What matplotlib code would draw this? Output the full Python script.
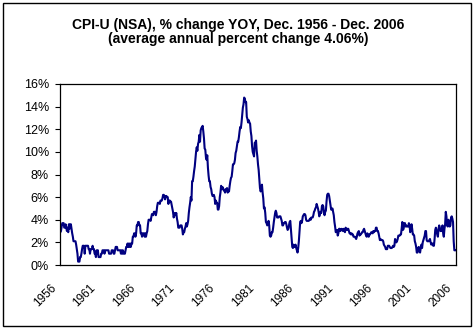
import matplotlib
matplotlib.use("Agg")
import matplotlib.pyplot as plt
import matplotlib.patches as patches
import matplotlib.transforms as mtransforms
import numpy as np

# CPI-U YoY % change, monthly, Dec 1956 .. Dec 2006
dec_1956 = [2.9]
yoy_by_year = {
    1957: [3.0, 3.4, 3.7, 3.7, 3.7, 3.3, 3.3, 3.6, 3.3, 3.0, 3.3, 2.9],
    1958: [3.6, 3.2, 3.6, 3.6, 3.2, 2.8, 2.5, 2.1, 2.1, 2.1, 2.1, 1.8],
    1959: [1.4, 1.0, 0.3, 0.3, 0.3, 0.7, 0.7, 1.0, 1.4, 1.7, 1.7, 1.7],
    1960: [1.0, 1.7, 1.7, 1.7, 1.7, 1.7, 1.4, 1.4, 1.0, 1.4, 1.4, 1.4],
    1961: [1.7, 1.4, 1.4, 1.0, 1.0, 0.7, 1.3, 1.0, 1.3, 0.7, 0.7, 0.7],
    1962: [0.7, 1.0, 1.0, 1.3, 1.3, 1.3, 1.0, 1.3, 1.3, 1.3, 1.3, 1.3],
    1963: [1.3, 1.0, 1.0, 1.0, 1.0, 1.3, 1.3, 1.3, 1.0, 1.0, 1.3, 1.6],
    1964: [1.6, 1.6, 1.3, 1.3, 1.3, 1.3, 1.3, 1.0, 1.3, 1.0, 1.3, 1.0],
    1965: [1.0, 1.0, 1.3, 1.6, 1.6, 1.9, 1.6, 1.9, 1.6, 1.9, 1.6, 1.9],
    1966: [1.9, 2.5, 2.5, 2.8, 2.8, 2.5, 2.8, 3.5, 3.5, 3.8, 3.8, 3.5],
    1967: [3.5, 2.8, 2.8, 2.5, 2.8, 2.8, 2.8, 2.5, 2.8, 2.5, 2.8, 3.0],
    1968: [3.6, 4.0, 4.0, 4.0, 3.9, 4.2, 4.5, 4.5, 4.4, 4.7, 4.7, 4.7],
    1969: [4.4, 4.7, 5.2, 5.5, 5.5, 5.5, 5.4, 5.7, 5.7, 5.7, 5.9, 6.2],
    1970: [6.2, 6.1, 5.8, 6.1, 6.1, 6.0, 6.0, 5.4, 5.7, 5.7, 5.6, 5.6],
    1971: [5.3, 5.0, 4.7, 4.2, 4.4, 4.6, 4.4, 4.6, 4.1, 3.8, 3.3, 3.3],
    1972: [3.3, 3.5, 3.5, 3.5, 3.2, 2.7, 2.9, 2.9, 3.2, 3.4, 3.7, 3.4],
    1973: [3.6, 3.9, 4.6, 5.1, 5.5, 6.0, 5.7, 7.4, 7.4, 7.8, 8.3, 8.7],
    1974: [9.4, 10.0, 10.4, 10.1, 10.7, 10.9, 11.5, 10.9, 11.9, 12.1, 12.2, 12.3],
    1975: [11.8, 11.2, 10.3, 10.2, 9.5, 9.3, 9.7, 8.6, 7.9, 7.4, 7.4, 6.9],
    1976: [6.7, 6.3, 6.1, 6.1, 6.2, 6.0, 5.4, 5.7, 5.5, 5.5, 4.9, 4.9],
    1977: [5.2, 6.0, 6.4, 7.0, 6.7, 6.9, 6.8, 6.6, 6.6, 6.4, 6.7, 6.7],
    1978: [6.8, 6.4, 6.6, 6.5, 7.0, 7.4, 7.7, 7.8, 8.3, 8.9, 8.9, 9.0],
    1979: [9.3, 9.9, 10.1, 10.5, 10.9, 10.9, 11.3, 11.8, 12.2, 12.1, 12.6, 13.3],
    1980: [13.9, 14.2, 14.8, 14.7, 14.4, 14.4, 13.1, 12.9, 12.6, 12.8, 12.6, 12.5],
    1981: [11.8, 11.4, 10.5, 10.0, 9.8, 9.6, 10.8, 10.8, 11.0, 10.1, 9.6, 8.9],
    1982: [8.4, 7.6, 6.8, 6.5, 6.7, 7.1, 6.4, 5.9, 5.0, 5.1, 4.6, 3.8],
    1983: [3.7, 3.5, 3.6, 3.9, 3.5, 2.6, 2.5, 2.6, 2.9, 2.9, 3.3, 3.8],
    1984: [4.2, 4.6, 4.8, 4.6, 4.2, 4.2, 4.2, 4.3, 4.3, 4.3, 4.1, 3.9],
    1985: [3.5, 3.5, 3.7, 3.7, 3.8, 3.8, 3.6, 3.3, 3.1, 3.2, 3.5, 3.8],
    1986: [3.9, 3.1, 2.2, 1.6, 1.5, 1.8, 1.6, 1.6, 1.8, 1.5, 1.3, 1.1],
    1987: [1.5, 2.1, 3.0, 3.8, 3.9, 3.7, 3.9, 4.3, 4.4, 4.5, 4.5, 4.4],
    1988: [4.0, 3.9, 3.9, 3.9, 3.9, 4.0, 4.1, 4.0, 4.2, 4.2, 4.2, 4.4],
    1989: [4.7, 4.8, 5.0, 5.1, 5.4, 5.2, 5.0, 4.7, 4.3, 4.5, 4.7, 4.6],
    1990: [5.2, 5.3, 5.2, 4.7, 4.4, 4.7, 4.8, 5.6, 6.2, 6.3, 6.3, 6.1],
    1991: [5.7, 5.3, 4.9, 4.9, 5.0, 4.7, 4.4, 3.8, 3.4, 2.9, 3.0, 3.1],
    1992: [2.6, 2.8, 3.2, 3.2, 3.0, 3.1, 3.2, 3.1, 3.0, 3.2, 3.0, 2.9],
    1993: [3.3, 3.2, 3.1, 3.2, 3.2, 3.0, 2.8, 2.8, 2.7, 2.8, 2.7, 2.7],
    1994: [2.5, 2.5, 2.5, 2.4, 2.3, 2.5, 2.8, 2.9, 3.0, 2.6, 2.7, 2.7],
    1995: [2.8, 2.9, 2.9, 3.1, 3.2, 3.0, 2.8, 2.6, 2.5, 2.8, 2.6, 2.5],
    1996: [2.7, 2.7, 2.8, 2.9, 2.9, 2.8, 3.0, 2.9, 3.0, 3.0, 3.3, 3.3],
    1997: [3.0, 3.0, 2.8, 2.5, 2.2, 2.3, 2.2, 2.2, 2.2, 2.1, 1.8, 1.7],
    1998: [1.6, 1.4, 1.4, 1.4, 1.7, 1.7, 1.7, 1.6, 1.5, 1.5, 1.5, 1.6],
    1999: [1.7, 1.6, 1.7, 2.3, 2.1, 2.0, 2.1, 2.3, 2.6, 2.6, 2.6, 2.7],
    2000: [2.7, 3.2, 3.8, 3.1, 3.2, 3.7, 3.7, 3.4, 3.5, 3.4, 3.4, 3.4],
    2001: [3.7, 3.5, 2.9, 3.3, 3.6, 3.2, 2.7, 2.7, 2.6, 2.1, 1.9, 1.6],
    2002: [1.1, 1.1, 1.5, 1.6, 1.2, 1.1, 1.5, 1.8, 1.5, 2.0, 2.2, 2.4],
    2003: [2.6, 3.0, 3.0, 2.2, 2.1, 2.1, 2.1, 2.2, 2.3, 2.0, 1.8, 1.9],
    2004: [1.9, 1.7, 1.7, 2.3, 3.1, 3.3, 3.0, 2.7, 2.5, 3.2, 3.5, 3.3],
    2005: [3.0, 3.0, 3.1, 3.5, 2.8, 2.5, 3.2, 3.6, 4.7, 4.3, 3.5, 3.4],
    2006: [4.0, 3.6, 3.4, 3.5, 4.2, 4.3, 4.1, 3.8, 2.1, 1.3, 1.3, 1.3],
}
tick_years = ["1956", "1961", "1966", "1971", "1976", "1981",
              "1986", "1991", "1996", "2001", "2006"]

yoy = dec_1956 + [v for yr in sorted(yoy_by_year) for v in yoy_by_year[yr]]
months = np.arange(len(yoy))

plt.rcParams['font.family'] = ['Liberation Sans', 'DejaVu Sans']

fig = plt.figure(figsize=(4.77, 3.34), dpi=100)
ax = fig.add_axes([60 / 477, 1 - 265 / 334, 396 / 477, 181 / 334])

ax.plot(months, yoy, color='#000080', linewidth=1.5)

ax.set_xlim(-0.5, len(yoy) - 0.5)
ax.set_ylim(0, 16)
ax.set_yticks(range(0, 17, 2))
ax.set_yticklabels([f"{v}%" for v in range(0, 17, 2)], fontsize=9)
ax.set_xticks(np.arange(0, len(yoy), 60))
ax.set_xticklabels(tick_years, fontsize=8.5, rotation=45, ha='right',
                   va='center', rotation_mode='anchor')
ax.tick_params(axis='x', length=0, pad=15)
ax.tick_params(axis='y', length=3.6, width=0.8, pad=4.3)
shift = mtransforms.ScaledTranslation(-6 / 100, 0, fig.dpi_scale_trans)
for lab in ax.get_xticklabels():
    lab.set_transform(lab.get_transform() + shift)
for s in ax.spines.values():
    s.set_linewidth(0.9)

fig.text(0.5, 1 - 25 / 334, "CPI-U (NSA), % change YOY, Dec. 1956 - Dec. 2006",
         ha='center', va='center', fontsize=10, fontweight='bold')
fig.text(0.5, 1 - 39.5 / 334, "(average annual percent change 4.06%)",
         ha='center', va='center', fontsize=10, fontweight='bold')

# outer chart border
fig.patches.append(patches.Rectangle((3 / 477, 1 - 326 / 334), 468 / 477, 323 / 334,
                                     transform=fig.transFigure, fill=False,
                                     edgecolor='black', linewidth=1))

fig.savefig("out.png", dpi=100)
